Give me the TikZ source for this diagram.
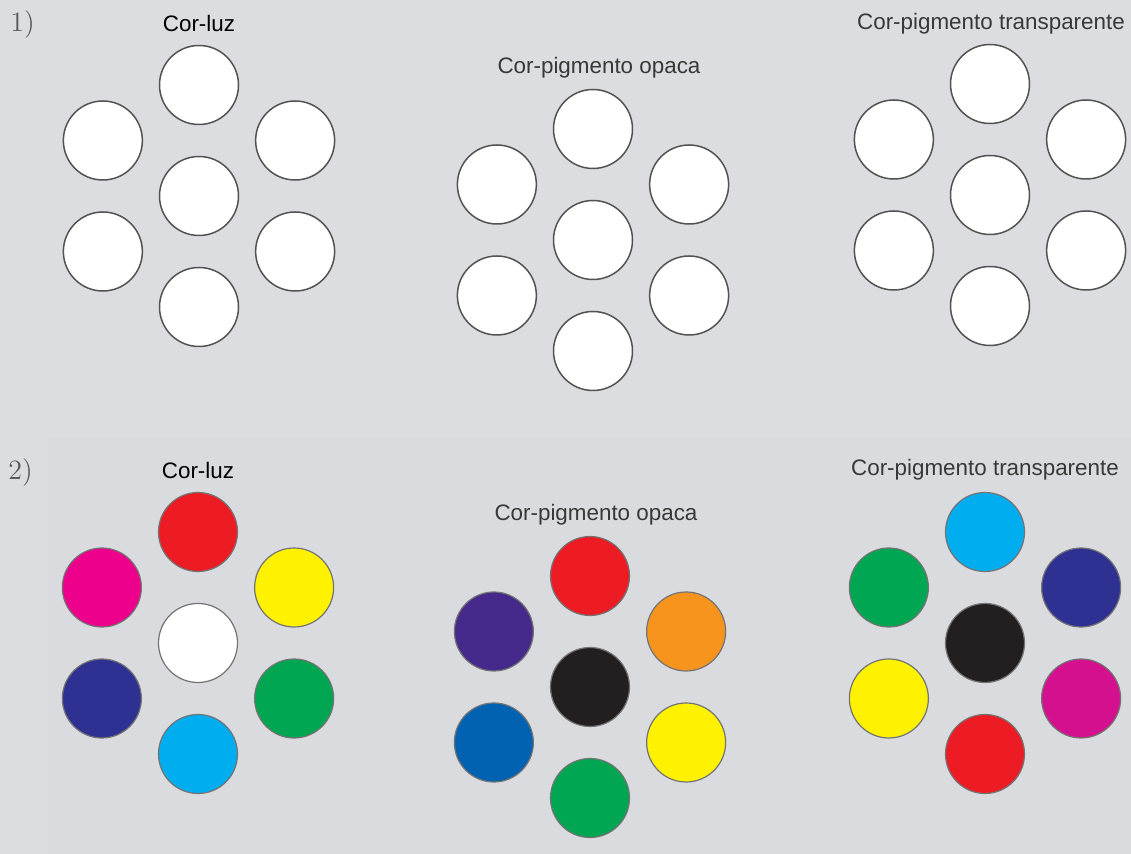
\documentclass[tikz,border=0pt]{standalone}
\usepackage{fontspec}
\setsansfont{Liberation Sans}
\usetikzlibrary{calc}

\definecolor{bggray}{HTML}{DCDDE0}
\definecolor{bgpanel}{HTML}{DADBDE}
\definecolor{cred}{HTML}{ED1C24}
\definecolor{cyellow}{HTML}{FFF200}
\definecolor{cgreen}{HTML}{00A651}
\definecolor{ccyan}{HTML}{00AEEF}
\definecolor{cnavy}{HTML}{2E3192}
\definecolor{cmagenta}{HTML}{EC008C}
\definecolor{cpink}{HTML}{D5108E}
\definecolor{corange}{HTML}{F7941D}
\definecolor{cblue}{HTML}{0062B0}
\definecolor{cpurple}{HTML}{45298B}
\definecolor{cblack}{HTML}{231F20}

\tikzset{
  disc/.style={circle, minimum size=39.5pt, inner sep=0pt, draw=black!55, line width=0.6pt},
  blank/.style={disc, fill=white, draw=black!68, line width=0.75pt},
  ttl/.style={anchor=base, inner sep=0pt, font=\sffamily\fontsize{11.2}{13}\selectfont, text=black!78},
  num/.style={anchor=base west, inner sep=0pt, font=\fontsize{14}{16}\selectfont, text=black!65},
}

\begin{document}
\begin{tikzpicture}[x=0.5pt, y=-0.5pt]
  \fill[bggray] (0,0) rectangle (1131,854);
  \fill[bgpanel] (48,437) rectangle (1131,854);

  % 1) empty wheels
  \node[num] (n1) at (10,32) {1)};
  \node[ttl, text=black] (t1a) at (199,32) {Cor-luz};
  \node[ttl] (t1b) at (599,74) {Cor-pigmento opaca};
  \node[ttl] (t1c) at (991,30) {Cor-pigmento transparente};
  \foreach \name/\x/\y in {wa/199/196, wb/593/240, wc/990/195} {
    \node[blank] (\name0) at (\x,\y) {};
    \foreach \a [count=\i] in {-90, -30, 30, 90, 150, 210}
      \node[blank] (\name\i) at ($(\name0)+(\a:111)$) {};
  }

  % 2) coloured wheels
  \node[num] (n2) at (8,480) {2)};
  \node[ttl, text=black] (t2a) at (198,479) {Cor-luz};
  \node[ttl] (t2b) at (596,521) {Cor-pigmento opaca};
  \node[ttl] (t2c) at (985,476) {Cor-pigmento transparente};

  \node[disc, fill=white] (ca0) at (198,643) {};
  \foreach \a/\c [count=\i] in {-90/cred, -30/cyellow, 30/cgreen, 90/ccyan, 150/cnavy, 210/cmagenta}
    \node[disc, fill=\c] (ca\i) at ($(ca0)+(\a:111)$) {};

  \node[disc, fill=cblack] (cb0) at (590,687) {};
  \foreach \a/\c [count=\i] in {-90/cred, -30/corange, 30/cyellow, 90/cgreen, 150/cblue, 210/cpurple}
    \node[disc, fill=\c] (cb\i) at ($(cb0)+(\a:111)$) {};

  \node[disc, fill=cblack] (cc0) at (985,643) {};
  \foreach \a/\c [count=\i] in {-90/ccyan, -30/cnavy, 30/cpink, 90/cred, 150/cyellow, 210/cgreen}
    \node[disc, fill=\c] (cc\i) at ($(cc0)+(\a:111)$) {};
\end{tikzpicture}
\end{document}
